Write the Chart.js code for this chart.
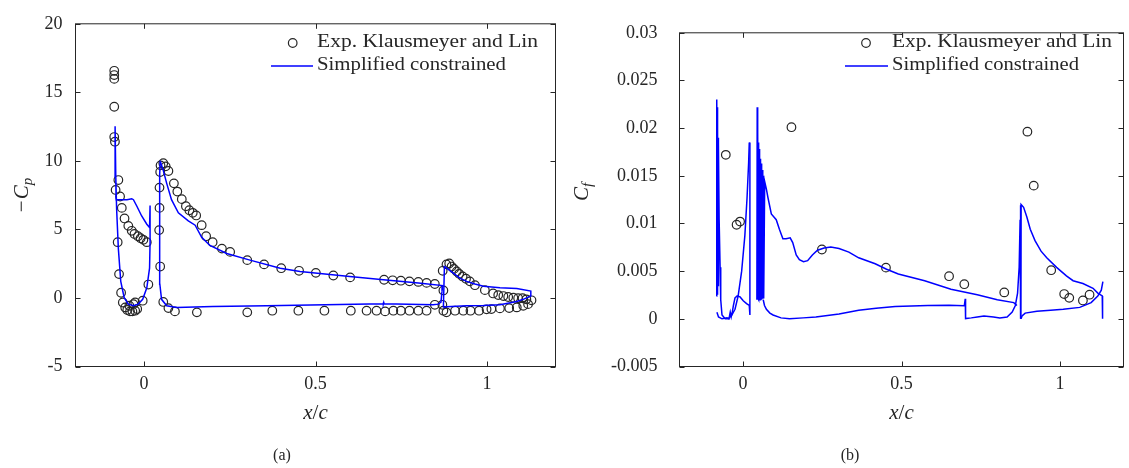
<!DOCTYPE html>
<html><head><meta charset="utf-8">
<script src="https://cdn.jsdelivr.net/npm/chart.js@4.4.1/dist/chart.umd.min.js"></script>
<style>
html,body{margin:0;padding:0;background:#fff;}
#wrap{position:relative;width:1129px;height:468px;overflow:hidden;background:#fff;}
#c1{position:absolute;left:0;top:0;}
#c2{position:absolute;left:565px;top:0;}
</style></head><body>
<div id="wrap"><canvas id="c1" width="565" height="468"></canvas><canvas id="c2" width="564" height="468"></canvas></div>
<script>
// ---------- tick labels ----------
const xTicks = [0, 0.5, 1];
const xTickLabels = ['0', '0.5', '1'];
const cpTicks = [-5, 0, 5, 10, 15, 20];
const cpTickLabels = ['-5', '0', '5', '10', '15', '20'];
const cfTicks = [-0.005, 0, 0.005, 0.01, 0.015, 0.02, 0.025, 0.03];
const cfTickLabels = ['-0.005', '0', '0.005', '0.01', '0.015', '0.02', '0.025', '0.03'];

// ---------- (a) -Cp : experiment ----------
const expCpX = [-0.087,-0.087,-0.087,-0.087,-0.087,-0.085,-0.075,-0.083,-0.07,-0.065,-0.057,-0.046,-0.036,-0.028,-0.018,-0.010,-0.002,0.008,-0.077,-0.073,-0.067,-0.062,-0.055,-0.049,-0.041,-0.034,-0.026,-0.020,-0.043,-0.031,-0.026,-0.004,0.0125,
 0.047,0.044,0.045,0.045,0.047,0.048,0.056,0.063,0.071,0.087,0.097,0.110,0.122,0.132,0.142,0.152,0.168,0.181,0.200,0.227,0.251,0.301,0.35,0.4,0.452,0.501,0.552,0.601,0.70,0.725,0.749,0.774,0.80,0.824,0.848,
 0.056,0.071,0.09,0.154,0.301,0.374,0.45,0.526,0.603,0.649,0.678,0.703,0.727,0.749,0.774,0.80,0.824,0.848,
 0.871,0.873,0.870,0.882,0.890,0.897,0.904,0.912,0.919,0.929,0.939,0.950,0.965,0.994,1.018,1.033,1.048,1.062,1.077,1.091,1.104,1.115,1.13,
 0.873,0.882,0.907,0.931,0.952,0.977,0.999,1.013,1.038,1.065,1.087,1.106,1.12];
const expCpY = [16.57,16.26,15.98,13.95,11.74,11.4,8.6,7.88,7.4,6.57,5.8,5.26,4.9,4.67,4.5,4.36,4.24,4.07,4.07,1.74,0.38,-0.33,-0.69,-0.88,-0.98,-0.98,-0.93,-0.81,-0.57,-0.45,-0.33,-0.2,0.98,
 2.29,4.95,6.57,8.05,9.19,9.67,9.83,9.6,9.26,8.36,7.76,7.21,6.69,6.4,6.21,6.02,5.31,4.5,4.07,3.6,3.36,2.76,2.45,2.17,1.98,1.83,1.64,1.5,1.33,1.29,1.26,1.21,1.17,1.1,1.02,
 -0.29,-0.74,-0.98,-1.05,-1.05,-0.93,-0.93,-0.93,-0.93,-0.93,-0.93,-0.98,-0.93,-0.93,-0.93,-0.93,-0.93,-0.5,
 1.98,0.55,-0.5,2.45,2.52,2.29,2.12,1.93,1.76,1.57,1.4,1.21,0.93,0.57,0.33,0.21,0.14,0.07,0.02,-0.02,-0.02,-0.1,-0.17,
 -0.93,-1.05,-0.93,-0.93,-0.93,-0.93,-0.83,-0.81,-0.76,-0.74,-0.69,-0.57,-0.45];

// ---------- (a) -Cp : simulation ----------
const cpSlatX = [-0.0845,-0.0816,-0.07,-0.05,-0.036,-0.031,-0.021,-0.007,0.008,0.016,0.0175,0.0175,0.016,0.008,-0.004,-0.017,-0.031,-0.046,-0.058,-0.068,-0.075,-0.08,-0.0825,-0.0845];
const cpSlatY = [12.52,7.17,7.17,7.17,7.24,7.17,6.69,5.98,5.38,5.14,6.74,4.07,2.17,0.74,-0.1,-0.45,-0.57,-0.45,0.02,1.21,3.6,6.45,8.83,12.52];
const cpMainX = [0.047,0.056,0.066,0.08,0.1,0.129,0.149,0.168,0.192,0.241,0.309,0.397,0.455,0.6,0.698,0.8,0.871,0.869,0.866,0.858,0.843,0.70,0.699,0.698,0.358,0.2,0.095,0.066,0.051,0.046,0.045,0.046,0.047];
const cpMainY = [10.0,9.31,8.36,7.17,6.21,5.62,5.31,4.43,3.83,3.24,2.76,2.17,1.93,1.57,1.33,1.1,0.9,0.5,-0.3,-0.45,-0.5,-0.42,-0.33,-0.42,-0.57,-0.62,-0.69,-0.57,-0.1,1.0,5.0,9.0,10.0];
const cpFlapX = [0.873,0.876,0.882,0.902,0.921,0.941,0.965,0.99,1.038,1.087,1.128,1.128,1.106,1.087,1.038,0.99,0.941,0.882,0.873];
const cpFlapY = [-0.69,2.29,2.2,1.81,1.45,1.21,1.02,0.86,0.74,0.69,0.5,0.14,-0.1,-0.26,-0.5,-0.55,-0.57,-0.64,-0.69];

// ---------- (b) Cf : experiment ----------
const expCfX = [-0.054,0.153,0.897,0.917,-0.02,-0.009,0.249,0.451,0.65,0.698,0.824,0.972,1.013,1.029,1.072,1.093];
const expCfY = [0.0172,0.0201,0.01963,0.01397,0.00987,0.0102,0.00727,0.00537,0.00447,0.00363,0.00277,0.0051,0.0026,0.0022,0.00193,0.00253];

// ---------- (b) Cf : simulation ----------
const cfSlatAX = [-0.0835,-0.083,-0.0825,-0.082,-0.0815,-0.081,-0.0805,-0.080,-0.0795,-0.079,-0.0785,-0.078,-0.0765,-0.075,-0.072,-0.070,-0.066,-0.056,-0.046,-0.035,-0.025,-0.015,-0.004,0.006,0.013,0.018,0.020];
const cfSlatAY = [0.0024,0.0230,0.0025,0.0229,0.0026,0.0222,0.0028,0.0210,0.0030,0.0200,0.0035,0.0190,0.0184,0.0104,0.0054,0.0020,0.0004,0.0,0.0,0.0004,0.0010,0.0024,0.0050,0.0087,0.0127,0.0164,0.0185];
const cfSlatBX = [-0.082,-0.077,-0.066,-0.05,-0.044,-0.040,-0.037,-0.033,-0.030,-0.025,-0.018,-0.009,0.001,0.0115,0.020,0.022,0.022];
const cfSlatBY = [0.0007,0.0002,0.0,0.0001,0.0,0.0007,0.0002,0.0008,0.0014,0.0022,0.0024,0.0023,0.0019,0.0016,0.0014,0.0004,0.0185];
const cfMainUX = [0.044,0.045,0.046,0.047,0.048,0.049,0.050,0.051,0.052,0.053,0.054,0.055,0.056,0.057,0.058,0.059,0.060,0.061,0.062,0.063,0.064,0.065,0.066,0.0686,0.074,0.079,0.0895,0.105,0.115,0.126,0.136,0.149,0.157,0.168,0.178,0.191,0.204,0.219,0.235,0.256,0.277,0.303,0.334,0.365,0.417,0.453,0.49,0.573,0.656,0.739,0.802,0.854,0.864];
const cfMainUY = [0.002,0.0222,0.0022,0.0200,0.0021,0.0185,0.002,0.0178,0.002,0.0172,0.002,0.0168,0.002,0.0163,0.002,0.0160,0.0021,0.0156,0.0021,0.0152,0.0022,0.0150,0.0023,0.0144,0.0136,0.0127,0.011,0.0104,0.0094,0.0084,0.0084,0.0085,0.008,0.0067,0.0062,0.006,0.0061,0.0067,0.0072,0.00743,0.00753,0.00737,0.007,0.0064,0.00577,0.0052,0.0047,0.004,0.0031,0.00253,0.002,0.0017,0.0014];
const cfMainLX = [0.064,0.068,0.074,0.085,0.095,0.12,0.147,0.19,0.23,0.303,0.365,0.42,0.48,0.583,0.65,0.698,0.701,0.702,0.72,0.739,0.76,0.79,0.81,0.833,0.849,0.859,0.866,0.871,0.874,0.875,0.876];
const cfMainLY = [0.002,0.0014,0.001,0.0006,0.0004,0.0001,0.0,0.0001,0.0002,0.0005,0.0009,0.0011,0.0013,0.0014,0.00142,0.00137,0.0021,0.00003,0.0001,0.0002,0.0003,0.0002,0.0001,0.0002,0.0007,0.0014,0.0027,0.0054,0.0104,0.0119,0.0];
const cfFlapUX = [0.876,0.877,0.885,0.895,0.906,0.921,0.94,0.958,0.989,1.02,1.041,1.072,1.104,1.119,1.133,1.134];
const cfFlapUY = [0.0,0.0120,0.0117,0.0107,0.0094,0.0082,0.0071,0.0064,0.0054,0.0045,0.0040,0.0037,0.0032,0.0027,0.0024,0.0];
const cfFlapLX = [0.877,0.88,0.89,0.927,0.97,1.01,1.062,1.098,1.119,1.13,1.135];
const cfFlapLY = [0.0,0.0003,0.0006,0.0008,0.0009,0.001,0.0012,0.0017,0.0024,0.003,0.0039];

// ---------- helpers ----------
const pts = (xs, ys) => xs.map((x, i) => ({x: x, y: ys[i]}));
const TXT = '#262626';
const BLUE = '#0000ff';
const SERIF = '"Liberation Serif", "DejaVu Serif", serif';
Chart.defaults.font.family = SERIF;

function lineDs(xs, ys) {
  return {label: 'Simplified constrained', data: pts(xs, ys), showLine: true, borderColor: BLUE,
          borderWidth: 1.5, pointRadius: 0, pointHoverRadius: 0, fill: false, tension: 0};
}
function expDs(xs, ys) {
  return {label: 'Exp. Klausmeyer and Lin', data: pts(xs, ys), showLine: false, pointRadius: 4.3,
          pointHoverRadius: 4.3, pointBorderColor: TXT, pointBackgroundColor: 'rgba(0,0,0,0)', pointBorderWidth: 1.2};
}
function stretchText(ctx, text, x, y, w, font) {
  ctx.save();
  ctx.font = font;
  const m = ctx.measureText(text).width;
  ctx.translate(x, y);
  ctx.scale(w / m, 1);
  ctx.textAlign = 'left';
  ctx.textBaseline = 'middle';
  ctx.fillText(text, 0, 0);
  ctx.restore();
}
function drawParts(ctx, parts, cx, baseY) {
  let total = 0;
  parts.forEach(p => { ctx.font = p.font; total += ctx.measureText(p.t).width + (p.gap || 0); });
  let x = cx - total / 2;
  parts.forEach(p => {
    ctx.font = p.font;
    ctx.fillText(p.t, x, baseY + (p.dy || 0));
    x += ctx.measureText(p.t).width + (p.gap || 0);
  });
}

function framePlugin(L) {
  return {
    id: 'frame',
    afterDraw(chart) {
      const ctx = chart.ctx, a = chart.chartArea;
      const xs = chart.scales.x, ys = chart.scales.y;
      ctx.save();
      ctx.strokeStyle = TXT;
      ctx.lineWidth = 1;
      ctx.strokeRect(a.left, a.top, a.right - a.left, a.bottom - a.top);
      ctx.beginPath();
      L.xt.forEach(v => {
        const p = Math.round(xs.getPixelForValue(v)) + 0.5;
        ctx.moveTo(p, a.bottom); ctx.lineTo(p, a.bottom - 5);
        ctx.moveTo(p, a.top); ctx.lineTo(p, a.top + 5);
      });
      L.yt.forEach(v => {
        const p = Math.round(ys.getPixelForValue(v)) + 0.5;
        ctx.moveTo(a.left, p); ctx.lineTo(a.left + 5, p);
        ctx.moveTo(a.right, p); ctx.lineTo(a.right - 5, p);
      });
      ctx.stroke();

      // legend
      ctx.fillStyle = TXT;
      ctx.beginPath();
      ctx.lineWidth = 1.2;
      ctx.arc(L.legCircle[0], L.legCircle[1], 4.3, 0, Math.PI * 2);
      ctx.stroke();
      ctx.strokeStyle = BLUE;
      ctx.lineWidth = 1.5;
      ctx.beginPath();
      ctx.moveTo(L.legLine[0], L.legLine[2]); ctx.lineTo(L.legLine[1], L.legLine[2]);
      ctx.stroke();
      stretchText(ctx, chart.data.datasets[chart.data.datasets.length - 1].label, L.legT1[0], L.legT1[1], L.legT1[2], '18px ' + SERIF);
      stretchText(ctx, chart.data.datasets[0].label, L.legT2[0], L.legT2[1], L.legT2[2], '18px ' + SERIF);

      // y title (rotated)
      ctx.save();
      ctx.translate(L.yTitle[0], L.yTitle[1]);
      ctx.rotate(-Math.PI / 2);
      ctx.textBaseline = 'alphabetic';
      ctx.textAlign = 'left';
      drawParts(ctx, L.yParts, 0, 0);
      ctx.restore();

      // x title
      ctx.textBaseline = 'alphabetic';
      ctx.textAlign = 'left';
      drawParts(ctx, [
        {t: 'x', font: 'italic 21px ' + SERIF},
        {t: '/', font: '21px ' + SERIF},
        {t: 'c', font: 'italic 21px ' + SERIF}
      ], (a.left + a.right) / 2, L.xTitleY);

      // caption
      ctx.font = '16px ' + SERIF;
      ctx.textAlign = 'center';
      ctx.fillText(L.caption, L.capX, L.capY);
      ctx.restore();
    }
  };
}

function makeChart(id, datasets, yMin, yMax, yTicks, yLabels, L) {
  return new Chart(document.getElementById(id), {
    type: 'scatter',
    data: {datasets: datasets},
    options: {
      responsive: false, animation: false, devicePixelRatio: 1,
      layout: {padding: {left: 0, top: 16.5, right: L.padRight, bottom: 0}},
      plugins: {legend: {display: false}, tooltip: {enabled: false}},
      scales: {
        x: {
          type: 'linear', min: -0.2, max: 1.2,
          grid: {display: false, drawTicks: false}, border: {display: false},
          afterBuildTicks: s => { s.ticks = xTicks.map(v => ({value: v})); },
          afterFit: s => { s.height = 101.5; },
          ticks: {padding: 7, color: TXT, font: {family: SERIF, size: 18}, maxRotation: 0, autoSkip: false,
                  callback: v => xTickLabels[xTicks.indexOf(v)]}
        },
        y: {
          type: 'linear', min: yMin, max: yMax,
          grid: {display: false, drawTicks: false}, border: {display: false},
          afterBuildTicks: s => { s.ticks = yTicks.map(v => ({value: v})); },
          afterFit: s => { s.width = L.yWidth; },
          ticks: {padding: L.yPad, color: TXT, font: {family: SERIF, size: 18}, autoSkip: false,
                  callback: v => yLabels[yTicks.indexOf(v)]}
        }
      }
    },
    plugins: [framePlugin(L)]
  });
}

makeChart('c1', [
  lineDs(cpSlatX, cpSlatY), lineDs(cpMainX, cpMainY), lineDs(cpFlapX, cpFlapY),
  expDs(expCpX, expCpY)
], -5, 20, cpTicks, cpTickLabels, {
  padRight: 9.5, yWidth: 75.5, yPad: 13, xt: xTicks, yt: cpTicks,
  legCircle: [292.7, 43], legLine: [271, 313, 66], legT1: [317, 42, 221], legT2: [317, 65, 189],
  yTitle: [28, 195],
  yParts: [
    {t: '\u2212', font: '21px ' + SERIF, gap: 1},
    {t: 'C', font: 'italic 21px ' + SERIF},
    {t: 'p', font: 'italic 15px ' + SERIF, dy: 4}
  ],
  xTitleY: 419, caption: '(a)', capX: 282, capY: 460
});

makeChart('c2', [
  lineDs(cfSlatAX, cfSlatAY), lineDs(cfSlatBX, cfSlatBY), lineDs(cfMainUX, cfMainUY),
  lineDs(cfMainLX, cfMainLY), lineDs(cfFlapUX, cfFlapUY), lineDs(cfFlapLX, cfFlapLY),
  expDs(expCfX, expCfY)
], -0.005, 0.03, cfTicks, cfTickLabels, {
  padRight: 1.5, yWidth: 114.5, yPad: 22, xt: xTicks, yt: cfTicks,
  legCircle: [301, 43], legLine: [280, 323, 66], legT1: [327, 42, 220], legT2: [327, 65, 187],
  yTitle: [23, 192],
  yParts: [
    {t: 'C', font: 'italic 21px ' + SERIF},
    {t: 'f', font: 'italic 15px ' + SERIF, dy: 4}
  ],
  xTitleY: 419, caption: '(b)', capX: 285, capY: 460
});
</script>
</body></html>
